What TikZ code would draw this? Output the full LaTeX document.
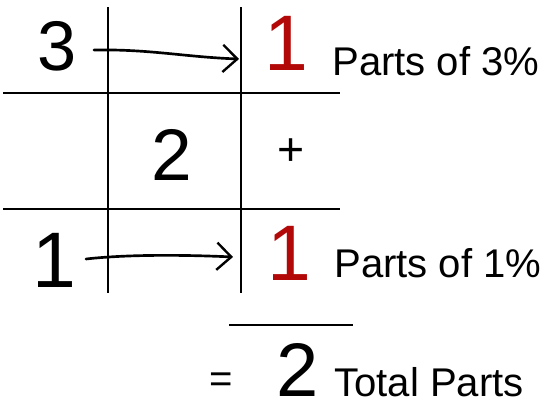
\documentclass[tikz,border=0pt]{standalone}
\usepackage{fontspec}
\setmainfont{Liberation Sans}
\usepackage{tikz}
\usetikzlibrary{arrows.meta}
\definecolor{darkred}{RGB}{178,8,8}

\begin{document}
\begin{tikzpicture}[x=0.025cm,y=-0.025cm,
  num/.style={anchor=base, inner sep=0pt, font=\fontsize{#1}{#1}\selectfont},
  num/.default=54,
  word/.style={anchor=base west, inner sep=0pt, font=\fontsize{28.5}{28.5}\selectfont},
  hand/.style={line width=1.9pt, line cap=round, -{Straight Barb[length=0.36cm,width=0.68cm,line width=1.7pt]}}]
\useasboundingbox (0,0) rectangle (560,410);

% grid
\draw[line width=1.2pt] (108,7) -- (108,293);
\draw[line width=1.2pt] (241,7) -- (241,293);
\draw[line width=1.5pt] (3,93) -- (340,93);
\draw[line width=1.5pt] (3,209) -- (340,209);

% numbers
\node[num=50] (three) at (57,70) {3};
\node[num=56, text=darkred] (topone) at (286,70) {1};
\node[num=52] (mid) at (172,180) {2};
\node[inner sep=0pt, font=\fontsize{33}{33}\selectfont] (plus) at (291,152) {+};
\node[num=56] (lowone) at (54.5,287) {1};
\node[num=56, text=darkred] (botone) at (289.5,280) {1};

\node[word] (partsA) at (332,75) {Parts of 3\%};
\node[word] (partsB) at (334,277) {Parts of 1\%};

% total
\draw[line width=1pt] (229,325) -- (353,325);
\node[inner sep=0pt, font=\fontsize{28.5}{28.5}\selectfont] (eq) at (221,383) {=};
\node[num=54] (total) at (297.5,396) {2};
\node[word] (totalword) at (334,396) {Total Parts};

% arrows
\coordinate (sA) at (94,50);
\coordinate (eA) at (239,59);
\coordinate (sB) at (86,259);
\coordinate (eB) at (233,257);
\draw[hand] (sA) .. controls (150,49) and (185,57) .. (eA);
\draw[hand] (sB) .. controls (130,254) and (190,255) .. (eB);

\end{tikzpicture}
\end{document}
